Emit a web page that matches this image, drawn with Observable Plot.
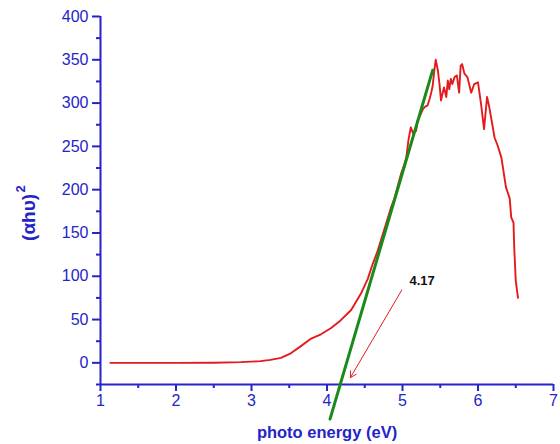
<!DOCTYPE html>
<html>
<head>
<meta charset="utf-8">
<script src="https://cdn.jsdelivr.net/npm/d3@7"></script>
<script src="https://cdn.jsdelivr.net/npm/@observablehq/plot@0.6"></script>
<style>
  html, body { margin: 0; padding: 0; background: #fff; }
  #chart svg { display: block; }
</style>
</head>
<body>
<div id="chart"></div>
<script>
// Measured spectrum: (αhν)^2 vs photon energy (eV)
const energy = [1.13, 1.5, 2.0, 2.5, 2.86, 3.12, 3.25, 3.39, 3.52, 3.65, 3.79, 3.92, 4.05, 4.18, 4.32, 4.45, 4.54, 4.60, 4.67, 4.78, 4.85, 4.89, 4.94, 4.98, 5.02, 5.05, 5.08, 5.11, 5.14, 5.18, 5.20, 5.22, 5.27, 5.30, 5.33, 5.36, 5.38, 5.40, 5.42, 5.44, 5.47, 5.49, 5.51, 5.53, 5.55, 5.58, 5.60, 5.62, 5.64, 5.66, 5.69, 5.72, 5.75, 5.77, 5.79, 5.82, 5.86, 5.91, 5.95, 6.00, 6.04, 6.08, 6.12, 6.15, 6.22, 6.26, 6.31, 6.37, 6.42, 6.44, 6.47, 6.48, 6.50, 6.53];
const alphaHv2 = [0, 0, 0, 0.2, 0.8, 2, 3.5, 5.8, 11, 19, 28, 33, 40, 49, 61, 80, 97, 113, 129, 160, 180, 189, 205, 218, 228, 237, 258, 272, 265, 268, 280, 283, 293, 296, 297, 305, 312, 320, 337, 350, 337, 322, 303, 311, 318, 307, 326, 316, 328, 322, 330, 332, 312, 343, 345, 334, 330, 312, 322, 324, 299, 270, 307, 295, 260, 251, 237, 203, 190, 168, 162, 133, 95, 75];

// Linear (Tauc) fit line endpoints
const fitX = [4.04, 5.40];
const fitY = [-65, 338];

// Annotation
const bandGapLabel = ["4.17"];
const arrowFrom = [4.99, 84];
const arrowTo = [4.31, -17];

// Axis ticks
const xTicks = [1, 2, 3, 4, 5, 6, 7];
const xMinor = [1.5, 2.5, 3.5, 4.5, 5.5, 6.5];
const yTicks = [0, 50, 100, 150, 200, 250, 300, 350, 400];
const yMinor = [-25, 25, 75, 125, 175, 225, 275, 325, 375];

const spectrum = energy.map((e, i) => ({e, v: alphaHv2[i]}));
const fit = fitX.map((x, i) => ({x, y: fitY[i]}));

const blue = "#2424c8";
const font = "Arial, 'Liberation Sans', sans-serif";

const chart = Plot.plot({
  width: 560,
  height: 444,
  marginLeft: 100,
  marginRight: 7,
  marginTop: 16,
  marginBottom: 60,
  style: {fontFamily: font, background: "#fff"},
  x: {domain: [1, 7], label: null},
  y: {domain: [-25, 400], label: null},
  marks: [
    // axis lines
    Plot.ruleX([1], {y1: -25, y2: 400, stroke: blue, strokeWidth: 2}),
    Plot.ruleY([-25], {x1: 1, x2: 7, stroke: blue, strokeWidth: 2}),
    // x axis ticks
    Plot.axisX(xTicks, {anchor: "bottom", color: blue, tickSize: 7, tickPadding: 3, fontSize: 16, strokeWidth: 2, tickFormat: d => d}),
    Plot.axisX(xMinor, {anchor: "bottom", color: blue, tickSize: 4, strokeWidth: 2, tickFormat: () => ""}),
    // y axis ticks
    Plot.axisY(yTicks, {anchor: "left", color: blue, tickSize: 8, tickPadding: 4, fontSize: 16, strokeWidth: 2, tickFormat: d => d}),
    Plot.axisY(yMinor, {anchor: "left", color: blue, tickSize: 4, strokeWidth: 2, tickFormat: () => ""}),
    // spectrum
    Plot.line(spectrum, {x: "e", y: "v", stroke: "#e41a1c", strokeWidth: 1.9, curve: "linear"}),
    // fit line
    Plot.line(fit, {x: "x", y: "y", stroke: "#1a8a1a", strokeWidth: 3}),
    // arrow
    Plot.arrow([{x1: arrowFrom[0], y1: arrowFrom[1], x2: arrowTo[0], y2: arrowTo[1]}], {
      x1: "x1", y1: "y1", x2: "x2", y2: "y2", stroke: "#e41a1c", strokeWidth: 1, headLength: 10
    }),
    Plot.text(bandGapLabel, {x: 5.26, y: 95, text: d => d, fontSize: 13, fontWeight: "bold", fill: "#111"}),
    // axis titles
    Plot.text(["photo energy (eV)"], {x: 4, y: -25, dy: 48, text: d => d, fontSize: 16.5, fontWeight: "bold", fill: blue}),
    Plot.text(["(αhυ)"], {x: 1, y: 168, dx: -72, rotate: -90, text: d => d, fontSize: 19, fontWeight: "bold", fill: blue}),
    Plot.text(["2"], {x: 1, y: 201, dx: -80, rotate: -90, text: d => d, fontSize: 13, fontWeight: "bold", fill: blue})
  ]
});
document.getElementById("chart").appendChild(chart);
</script>
</body>
</html>
